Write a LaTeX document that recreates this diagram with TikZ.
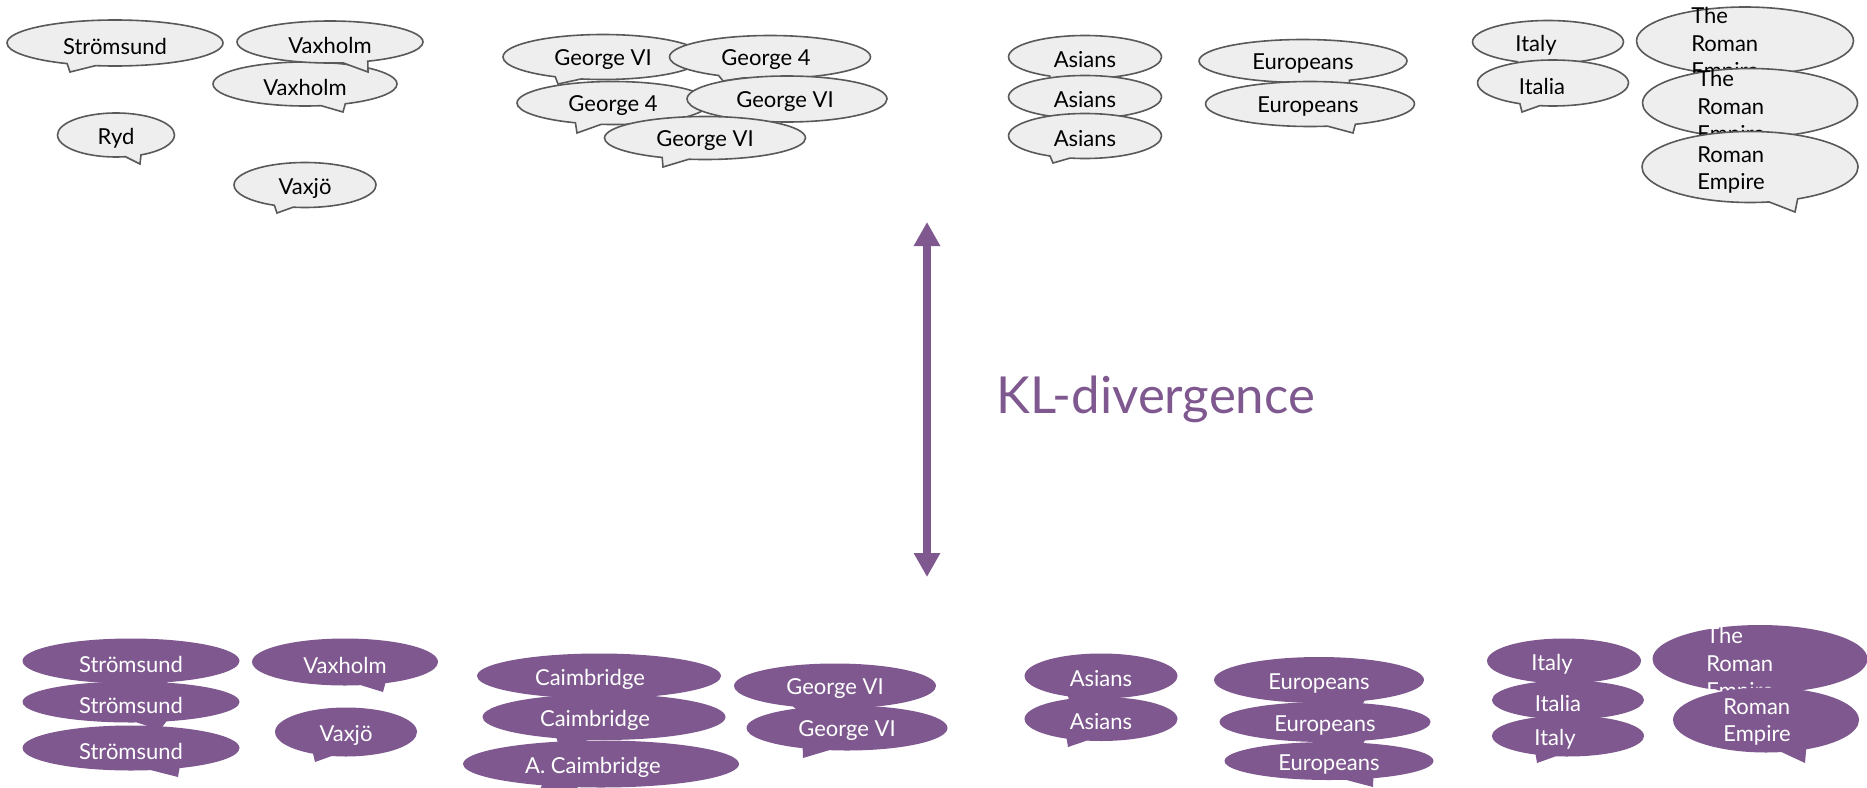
\documentclass[tikz,border=0pt]{standalone}
\usepackage{fontspec}
\setmainfont{Lato}
\usetikzlibrary{shapes.callouts,arrows.meta,calc}
\definecolor{bubgray}{HTML}{EEEEEE}
\definecolor{bubline}{HTML}{595959}
\definecolor{klpurple}{RGB}{126,88,143}
\tikzset{
  gbub/.style={ellipse callout, draw=bubline, line width=1.6pt, fill=bubgray, inner sep=0pt, outer sep=0pt, callout pointer arc=16},
  pbub/.style={ellipse callout, draw=none, fill=klpurple, inner sep=0pt, outer sep=0pt, callout pointer arc=16},
  gtxt/.style={text=black, inner sep=0pt, align=left, font=\fontsize{22}{27.5}\selectfont},
  ptxt/.style={text=white, inner sep=0pt, align=left, font=\fontsize{22}{27.5}\selectfont},
  kltxt/.style={text=klpurple, inner sep=0pt, font=\fontsize{51}{60}\selectfont},
  klarrow/.style={draw=klpurple, line width=8.5pt, {Triangle[width=25pt,length=24pt]}-{Triangle[width=25pt,length=24pt]}}
}
% #1 style prefix, #2 name, #3 centre, #4 width, #5 height, #6 pointer tip, #7 text offset, #8 text
\newcommand\spbubble[8]{%
  \node[#1bub, minimum width=#4pt, minimum height=#5pt, callout absolute pointer={#6}] (#2) at #3 {};
  \node[#1txt] (#2-t) at ($(#2.center)+#7+(0,3)$) {#8};
}
\begin{document}
\begin{tikzpicture}[x=1pt,y=-1pt]
\useasboundingbox (0,0) rectangle (1867,787);
% ---------- top group ----------
\spbubble{g}{str}{(115,43)}{216}{46}{(70,72)}{(0,0)}{Strömsund}
\spbubble{g}{vaxb}{(305,84)}{184}{44}{(343,112)}{(0,0)}{Vaxholm}
\spbubble{g}{vaxa}{(330,42)}{186}{42}{(368,72)}{(0,0)}{Vaxholm}
\spbubble{g}{ryd}{(116,135)}{117}{44}{(140,164)}{(0,0)}{Ryd}
\spbubble{g}{vaxjo}{(305,185)}{142}{45}{(277,213)}{(0,0)}{Vaxjö}
\spbubble{g}{gvia}{(603,57)}{200}{45}{(558,84)}{(0,0)}{George VI}
\spbubble{g}{gfa}{(770,57)}{201}{43}{(723,81)}{(-4,0)}{George 4}
\spbubble{g}{gfb}{(613,103)}{192}{43}{(577,133)}{(0,0)}{George 4}
\spbubble{g}{gvib}{(787,99)}{200}{46}{(745,130)}{(-2,0)}{George VI}
\spbubble{g}{gvic}{(705,138)}{201}{43}{(663,167)}{(0,0)}{George VI}
\spbubble{g}{asa}{(1085,57)}{153}{43}{(1050,85)}{(0,0)}{Asians}
\spbubble{g}{asb}{(1085,97)}{153}{43}{(1050,125)}{(0,0)}{Asians}
\spbubble{g}{asc}{(1085,136)}{153}{45}{(1053,163)}{(0,0)}{Asians}
\spbubble{g}{eua}{(1303,61)}{208}{43}{(1350,90)}{(0,0)}{Europeans}
\spbubble{g}{eub}{(1310,104)}{209}{45}{(1353,133)}{(-2,0)}{Europeans}
\spbubble{g}{ita}{(1548,42)}{151}{43}{(1520,70)}{(-12,0)}{Italy}
\spbubble{g}{itb}{(1553,83)}{151}{46}{(1522,112)}{(-11,0)}{Italia}
\spbubble{g}{roa}{(1745,41)}{217}{68}{(1790,85)}{(-20,1)}{The\\Roman\\Empire}
\spbubble{g}{rob}{(1750,103)}{215}{69}{(1790,150)}{(-19,2)}{The\\Roman\\Empire}
\spbubble{g}{roc}{(1750,167)}{216}{71}{(1795,212)}{(-19,0)}{Roman\\Empire}
% ---------- KL divergence ----------
\coordinate (atop) at (927,222);
\coordinate (abot) at (927,577);
\draw[klarrow] (atop) -- (abot);
\node[kltxt, anchor=base west] (kl) at (996,413) {KL-divergence};
% ---------- bottom group ----------
\spbubble{p}{pstra}{(131,661)}{217}{45}{(160,690)}{(0,0)}{Strömsund}
\spbubble{p}{pstrb}{(131,702)}{217}{41}{(160,730)}{(0,0)}{Strömsund}
\spbubble{p}{pstrc}{(131,748)}{217}{45}{(178,777)}{(0,0)}{Strömsund}
\spbubble{p}{pvax}{(345,662)}{186}{47}{(383,692)}{(0,0)}{Vaxholm}
\spbubble{p}{pvaxjo}{(346,732)}{142}{49}{(315,762)}{(0,0)}{Vaxjö}
\spbubble{p}{pca}{(599,676)}{244}{45}{(560,705)}{(-9,0)}{Caimbridge}
\spbubble{p}{pcb}{(604,717)}{243}{46}{(560,748)}{(-9,0)}{Caimbridge}
\spbubble{p}{pcc}{(601,764)}{276}{47}{(535,800)}{(-8,0)}{A. Caimbridge}
\spbubble{p}{pga}{(835,686)}{202}{45}{(800,712)}{(0,0)}{George VI}
\spbubble{p}{pgb}{(847,728)}{201}{45}{(803,758)}{(0,0)}{George VI}
\spbubble{p}{paa}{(1101,676)}{153}{45}{(1070,705)}{(0,0)}{Asians}
\spbubble{p}{pab}{(1101,719)}{153}{44}{(1068,747)}{(0,0)}{Asians}
\spbubble{p}{pea}{(1319,680)}{210}{46}{(1360,708)}{(0,0)}{Europeans}
\spbubble{p}{peb}{(1325,722)}{211}{40}{(1360,748)}{(0,0)}{Europeans}
\spbubble{p}{pec}{(1329,761)}{209}{38}{(1373,787)}{(0,0)}{Europeans}
\spbubble{p}{pia}{(1564,661)}{154}{45}{(1540,690)}{(-12,0)}{Italy}
\spbubble{p}{pib}{(1568,700)}{152}{39}{(1540,725)}{(-10,0)}{Italia}
\spbubble{p}{pic}{(1568,736)}{152}{41}{(1537,763)}{(-13,0)}{Italy}
\spbubble{p}{pra}{(1760,659)}{215}{68}{(1790,700)}{(-20,3)}{The\\Roman\\Empire}
\spbubble{p}{prb}{(1766,720)}{186}{65}{(1805,763)}{(-9,-1)}{Roman\\Empire}
\end{tikzpicture}
\end{document}
